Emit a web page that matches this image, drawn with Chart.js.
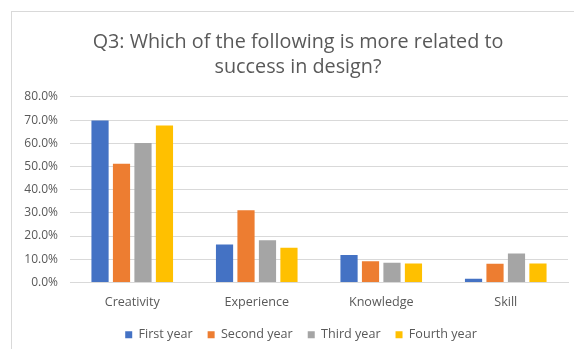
<!DOCTYPE html>
<html>
<head>
<meta charset="utf-8">
<script src="https://cdn.jsdelivr.net/npm/chart.js@4/dist/chart.umd.min.js"></script>
<style>
  body { margin: 0; background: #fff; }
  #wrap { position: relative; width: 574px; height: 349px; }
  #frame { position: absolute; left: 11px; top: 11px; right: 0; bottom: 0;
           border-top: 1px solid #d9d9d9; border-left: 1px solid #d9d9d9; }
  canvas { position: absolute; left: 0; top: 0; }
</style>
</head>
<body>
<div id="wrap">
  <div id="frame"></div>
  <canvas id="barChart" width="574" height="349"></canvas>
</div>
<script>
var categories = ["Creativity", "Experience", "Knowledge", "Skill"];
var firstYear  = [69.8, 16.4, 11.8, 1.6];
var secondYear = [51.2, 31.1, 9.1, 8.0];
var thirdYear  = [60.1, 18.2, 8.5, 12.5];
var fourthYear = [67.7, 15.0, 8.2, 8.2];
var yTicks = [0, 10, 20, 30, 40, 50, 60, 70, 80];

var textColor = "#595959";
Chart.defaults.font.family = "'Open Sans', sans-serif";
Chart.defaults.color = textColor;

// title and legend sit a little right of the canvas centre in the original
function shiftBox(box, dx) {
    if (!box) return;
    box.left += dx;
    box.right += dx;
    (box.legendHitBoxes || []).forEach(function (b) { b.left += dx; });
}
var boxShift = {
    id: 'boxShift',
    afterLayout: function (chart) {
        shiftBox(chart.legend, 11);
        shiftBox(chart.titleBlock, 8);
    }
};

var ctx = document.getElementById("barChart");
var myChart = new Chart(ctx, {
    type: 'bar',
    data: {
        labels: categories,
        datasets: [
            { label: "First year",  data: firstYear,  backgroundColor: "#4472C4" },
            { label: "Second year", data: secondYear, backgroundColor: "#ED7D31" },
            { label: "Third year",  data: thirdYear,  backgroundColor: "#A5A5A5" },
            { label: "Fourth year", data: fourthYear, backgroundColor: "#FFC000" }
        ]
    },
    options: {
        responsive: false,
        animation: false,
        layout: { padding: { left: 12, right: 6, top: 0, bottom: -2 } },
        datasets: { bar: { barPercentage: 0.8, categoryPercentage: 0.69 } },
        plugins: {
            title: {
                display: true,
                text: ["Q3: Which of the following is more related to", "success in design?"],
                color: textColor,
                font: { size: 19.8, weight: 'normal', lineHeight: 1.3 },
                padding: { top: 29, bottom: 16.5 }
            },
            legend: {
                position: 'bottom',
                labels: {
                    boxWidth: 7,
                    boxHeight: 7,
                    color: textColor,
                    font: { size: 12.6 },
                    padding: 15
                }
            },
            tooltip: { enabled: false }
        },
        scales: {
            x: {
                grid: { display: false },
                border: { color: "#d9d9d9", width: 1 },
                afterFit: function (scale) { scale.height = 31; },
                ticks: { color: textColor, font: { size: 12.6 }, padding: 4 }
            },
            y: {
                min: 0,
                max: 80,
                afterBuildTicks: function (scale) {
                    scale.ticks = yTicks.map(function (v) { return { value: v }; });
                },
                afterFit: function (scale) { scale.width = 58; },
                grid: { color: "#d9d9d9", drawTicks: false },
                border: { display: false },
                ticks: {
                    color: textColor,
                    font: { size: 12 },
                    padding: 12,
                    callback: function (v) { return v.toFixed(1) + "%"; }
                }
            }
        }
    },
    plugins: [boxShift]
});
</script>
</body>
</html>
